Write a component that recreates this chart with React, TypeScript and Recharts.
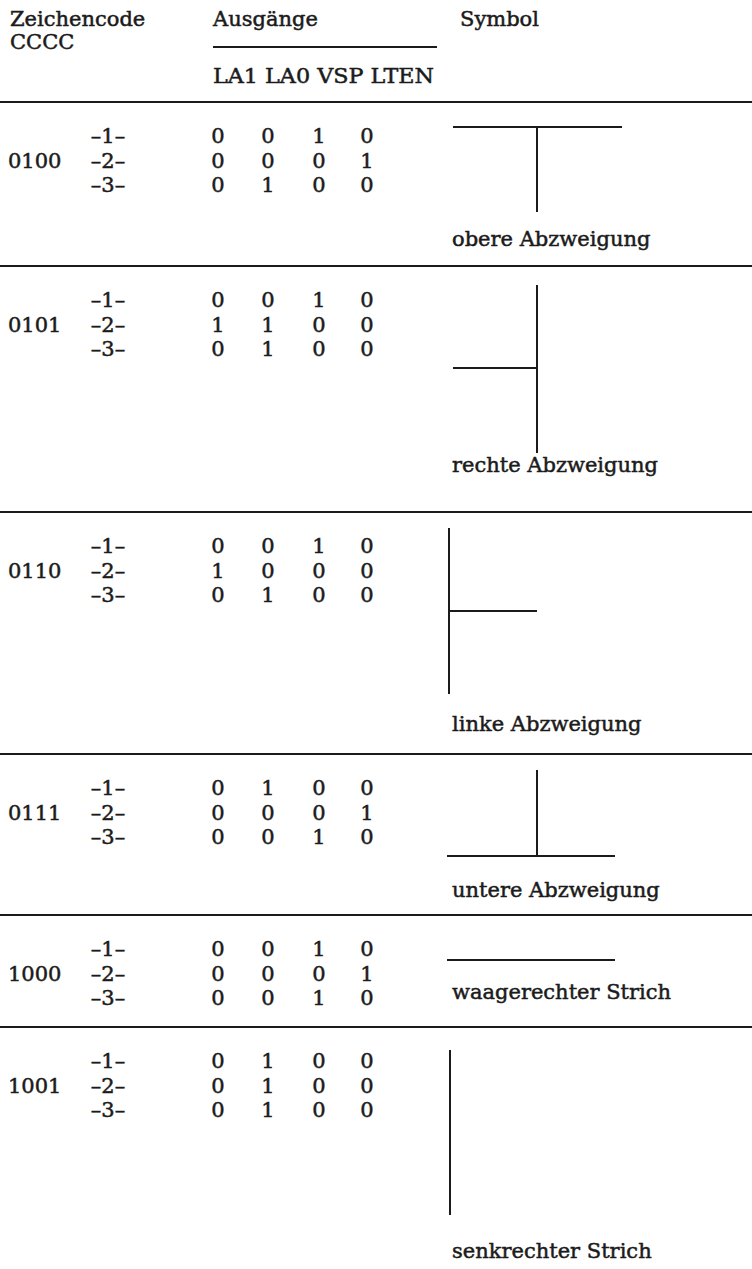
import { ScatterChart, Scatter, XAxis, YAxis, ReferenceLine } from "recharts";

// table content
const CODES = ["0100", "0101", "0110", "0111", "1000", "1001"];
const STEPS = ["–1–", "–2–", "–3–"];
const OUTPUT_NAMES = ["LA1", "LA0", "VSP", "LTEN"];

// outputs per code, three steps each (code 0100 step 1..3, code 0101 step 1..3, ...)
const LA1 = [0, 0, 0, 0, 1, 0, 0, 1, 0, 0, 0, 0, 0, 0, 0, 0, 0, 0];
const LA0 = [0, 0, 1, 0, 1, 1, 0, 0, 1, 1, 0, 0, 0, 0, 0, 1, 1, 1];
const VSP = [1, 0, 0, 1, 0, 0, 1, 0, 0, 0, 0, 1, 1, 0, 1, 0, 0, 0];
const LTEN = [0, 1, 0, 0, 0, 0, 0, 0, 0, 0, 1, 0, 0, 1, 0, 0, 0, 0];

const SYMBOL_KINDS = ["top", "right", "left", "bottom", "horizontal", "vertical"];
const SYMBOL_NAMES = [
  "obere Abzweigung",
  "rechte Abzweigung",
  "linke Abzweigung",
  "untere Abzweigung",
  "waagerechter Strich",
  "senkrechter Strich",
];

// layout
const W = 752;
const H = 1269;
const RULE_Y = [102, 266, 512, 754, 915, 1027];
const FIRST_ROW = 34;
const ROW_GAP = 24.5;
const CODE_X = 8;
const STEP_X = 108;
const BIT_X = [218, 268, 319, 367];
const SYM_X = 452;
const INK = "#1b1b1b";
const FONT = "'DejaVu Serif', 'Liberation Serif', serif";
const FONT_SIZE = 21;

// symbol strokes relative to the rule above the block: [x1, dy1, x2, dy2]
const SHAPES: Record<string, { segs: number[][]; label: number }> = {
  top: { segs: [[453, 25, 622, 25], [537, 25, 537, 110]], label: 137 },
  right: { segs: [[537, 19, 537, 187], [453, 102, 537, 102]], label: 199 },
  left: { segs: [[449, 16, 449, 182], [449, 99, 537, 99]], label: 212 },
  bottom: { segs: [[537, 16, 537, 102], [447, 102, 615, 102]], label: 136 },
  horizontal: { segs: [[447, 45, 615, 45]], label: 77 },
  vertical: { segs: [[450, 23, 450, 188]], label: 224 },
};

const bitCols = [LA1, LA0, VSP, LTEN];

const codeData = CODES.map((c, i) => ({ x: CODE_X, y: RULE_Y[i] + FIRST_ROW + ROW_GAP, label: c }));
const stepData = CODES.flatMap((_, i) =>
  STEPS.map((s, j) => ({ x: STEP_X, y: RULE_Y[i] + FIRST_ROW + j * ROW_GAP, label: s }))
);
const bitData = CODES.flatMap((_, i) =>
  STEPS.flatMap((_, j) =>
    bitCols.map((col, k) => ({
      x: BIT_X[k],
      y: RULE_Y[i] + FIRST_ROW + j * ROW_GAP,
      label: String(col[i * 3 + j]),
    }))
  )
);
const nameData = SYMBOL_KINDS.map((k, i) => ({ x: SYM_X, y: RULE_Y[i] + SHAPES[k].label, label: SYMBOL_NAMES[i] }));
const headerData = [
  { x: CODE_X + 2, y: 19, label: "Zeichencode" },
  { x: CODE_X + 2, y: 42, label: "CCCC" },
  { x: BIT_X[0] - 5, y: 19, label: "Ausgänge" },
  { x: 460, y: 19, label: "Symbol" },
];
const outputHeader = [{ x: BIT_X[0] - 5, y: 76, label: OUTPUT_NAMES.join(" ") }];

const textShape = (anchor: "start" | "middle", fit?: number) => (props: any) => (
  <text
    x={props.cx}
    y={props.cy}
    textAnchor={anchor}
    dominantBaseline="central"
    fontFamily={FONT}
    fontSize={FONT_SIZE}
    fill={INK}
    stroke={INK}
    strokeWidth={0.5}
    textLength={fit}
    lengthAdjust={fit ? "spacingAndGlyphs" : undefined}
  >
    {props.payload.label}
  </text>
);

export default function App() {
  return (
    <div style={{ position: "absolute", left: 0, top: 0, width: W, height: H, background: "#fff" }}>
      <ScatterChart width={W} height={H} margin={{ top: 0, right: 0, bottom: 0, left: 0 }}>
        <XAxis type="number" dataKey="x" domain={[0, W]} allowDataOverflow hide />
        <YAxis type="number" dataKey="y" domain={[0, H]} allowDataOverflow reversed hide />

        {/* header underline and block rules */}
        <ReferenceLine segment={[{ x: BIT_X[0] - 5, y: 47 }, { x: 437, y: 47 }]} stroke={INK} strokeWidth={2} ifOverflow="visible" />
        {RULE_Y.map((y, i) => (
          <ReferenceLine key={`r${i}`} segment={[{ x: 0, y }, { x: W, y }]} stroke={INK} strokeWidth={2} ifOverflow="visible" />
        ))}

        {/* symbols */}
        {SYMBOL_KINDS.flatMap((k, i) =>
          SHAPES[k].segs.map((s, j) => (
            <ReferenceLine
              key={`s${i}-${j}`}
              segment={[{ x: s[0], y: RULE_Y[i] + s[1] }, { x: s[2], y: RULE_Y[i] + s[3] }]}
              stroke={INK}
              strokeWidth={2}
              ifOverflow="visible"
            />
          ))
        )}

        <Scatter data={headerData} shape={textShape("start")} isAnimationActive={false} />
        <Scatter data={outputHeader} shape={textShape("start", 221)} isAnimationActive={false} />
        <Scatter data={codeData} shape={textShape("start")} isAnimationActive={false} />
        <Scatter data={stepData} shape={textShape("middle")} isAnimationActive={false} />
        <Scatter data={bitData} shape={textShape("middle")} isAnimationActive={false} />
        <Scatter data={nameData} shape={textShape("start")} isAnimationActive={false} />
      </ScatterChart>
    </div>
  );
}
